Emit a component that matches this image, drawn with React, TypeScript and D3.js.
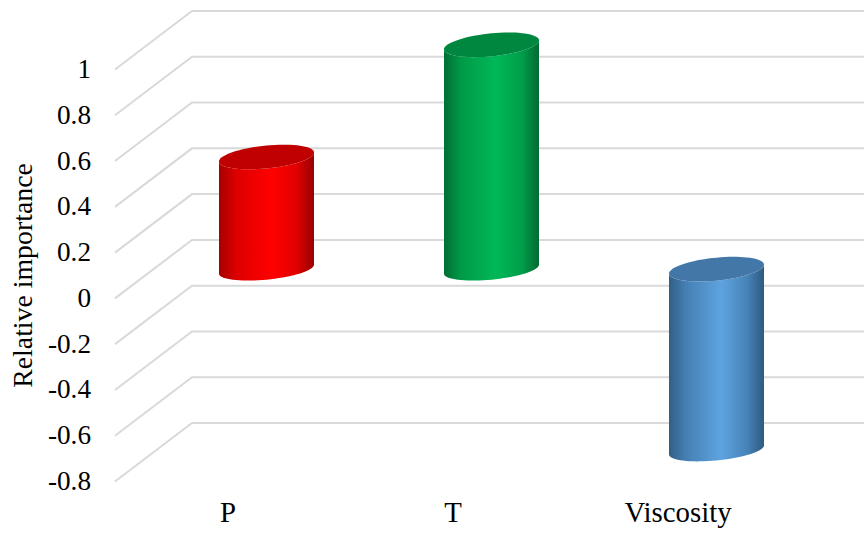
import React from "react";
import * as d3 from "d3";

const categories = ["P", "T", "Viscosity"];
const values = [0.49, 0.98, -0.79];
const tickValues = [1, 0.8, 0.6, 0.4, 0.2, 0, -0.2, -0.4, -0.6, -0.8];
const axisTitle = "Relative importance";

const sideStops = [
  [
    ["0%", "#a80000"], ["18%", "#dc0000"], ["55%", "#ff0000"], ["82%", "#e00000"], ["100%", "#960000"],
  ],
  [
    ["0%", "#006e34"], ["18%", "#009a47"], ["55%", "#00b858"], ["82%", "#009e4a"], ["100%", "#006a32"],
  ],
  [
    ["0%", "#315f86"], ["18%", "#4580b4"], ["55%", "#5ea3e0"], ["82%", "#4783b8"], ["100%", "#2f5a80"],
  ],
];
const capColors = ["#c00000", "#00873f", "#4277a8"];

const WIDTH = 864;
const HEIGHT = 535;
// Oblique projection of the floor depth: the back wall sits up and to the right of the front edge.
const depthX = 77;
const depthY = 58.5;

const yBack = d3.scaleLinear().domain([-0.8, 1]).range([423, 11]);
const xBack = d3.scaleBand<string>().domain(categories).range([192, 867]);

const barHalfWidth = 47.5;
const capRy = 11.5;
const baseRy = 10.5;
const capShear = 4.5;

// Point on a sheared ellipse; the shear gives the cap its tilt.
function ellipsePoint(cx: number, cy: number, ry: number, t: number): [number, number] {
  const c = Math.cos(t);
  return [cx + barHalfWidth * c, cy + ry * Math.sin(t) - capShear * c];
}

const pathLine = d3.line<[number, number]>();

function capPath(cx: number, cy: number) {
  return pathLine(d3.range(0, 73).map((i) => ellipsePoint(cx, cy, capRy, (i / 72) * 2 * Math.PI))) + "Z";
}

function bodyPath(cx: number, yTop: number, yBottom: number) {
  // Right edge down, lower half of the bottom ellipse, left edge up, lower half of the top ellipse.
  const bottom = d3.range(0, 37).map((i) => ellipsePoint(cx, yBottom, baseRy, (i / 36) * Math.PI));
  const top = d3.range(0, 37).map((i) => ellipsePoint(cx, yTop, capRy, Math.PI - (i / 36) * Math.PI));
  return pathLine([...bottom, ...top]) + "Z";
}

export default function App() {
  const font = "'Liberation Serif', 'Times New Roman', serif";
  return (
    <svg
      width={WIDTH}
      height={HEIGHT}
      viewBox={`0 0 ${WIDTH} ${HEIGHT}`}
      style={{ position: "absolute", left: 0, top: 0, background: "#fff" }}
      fontFamily={font}
    >
      <defs>
        {sideStops.map((stops, i) => (
          <linearGradient id={`side-${i}`} key={i} x1="0" x2="1" y1="0" y2="0">
            {stops.map(([offset, color]) => (
              <stop key={offset} offset={offset} stopColor={color} />
            ))}
          </linearGradient>
        ))}
      </defs>

      <g fill="none" stroke="#d9d9d9" strokeWidth={2}>
        {tickValues.map((v) => {
          const y = yBack(v);
          const x0 = xBack.range()[0];
          return (
            <path key={v} d={`M${x0 - depthX},${y + depthY}L${x0},${y}L${WIDTH},${y}`} />
          );
        })}
      </g>

      {categories.map((c, i) => {
        const cx = xBack(c)! + xBack.bandwidth() / 2 - depthX / 2 + 0.5;
        const yZero = yBack(0) + depthY / 2;
        const yValue = yBack(values[i]) + depthY / 2;
        const yTop = Math.min(yZero, yValue);
        const yBottom = Math.max(yZero, yValue);
        return (
          <g key={c}>
            <path d={bodyPath(cx, yTop, yBottom)} fill={`url(#side-${i})`} />
            <path d={capPath(cx, yTop)} fill={capColors[i]} />
          </g>
        );
      })}

      <g fontSize={27.2} fill="#000" textAnchor="end">
        {tickValues.map((v) => (
          <text key={v} x={91} y={yBack(v) + depthY + 8.5}>
            {String(v)}
          </text>
        ))}
      </g>

      <g fontSize={28.8} fill="#000" textAnchor="middle">
        {categories.map((c) => (
          <text key={c} x={xBack(c)! + xBack.bandwidth() / 2 - depthX + 0.5} y={522}>
            {c}
          </text>
        ))}
      </g>

      <text
        transform="translate(32,275.5) rotate(-90)"
        fontSize={27.8}
        fill="#000"
        textAnchor="middle"
      >
        {axisTitle}
      </text>
    </svg>
  );
}
